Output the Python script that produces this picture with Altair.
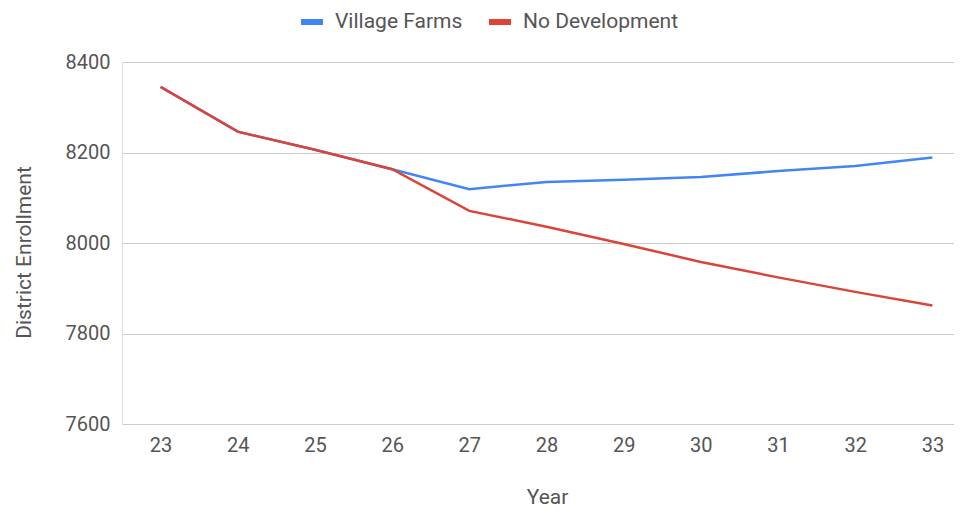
import altair as alt
import pandas as pd

years = [23, 24, 25, 26, 27, 28, 29, 30, 31, 32, 33]
village_farms = [8345, 8246, 8206, 8163, 8119, 8135, 8140, 8146, 8159, 8170, 8189]
no_development = [8345, 8246, 8206, 8163, 8071, 8036, 7998, 7958, 7924, 7892, 7862]
series_names = ["Village Farms", "No Development"]
series_colors = ["#4285F4", "#DB4437"]
y_ticks = [7600, 7800, 8000, 8200, 8400]

rows = []
for name, vals in zip(series_names, [village_farms, no_development]):
    for yr, v in zip(years, vals):
        rows.append({"Year": yr, "Enrollment": v, "Series": name})
df = pd.DataFrame(rows)

FONT = "Roboto"
TXT = "#555555"

x_enc = alt.X(
    "Year:Q",
    scale=alt.Scale(domain=[22.5, 33.28], nice=False, zero=False),
    axis=alt.Axis(
        values=years, format="d", grid=False, domain=False, ticks=False,
        labelPadding=11, labelFontSize=20, labelColor=TXT, labelFont=FONT,
        title="Year", titleFontSize=21, titleFontWeight="normal", titleColor=TXT,
        titleFont=FONT, titlePadding=31, titleX=425, titleAlign="center",
    ),
)
y_enc = alt.Y(
    "Enrollment:Q",
    scale=alt.Scale(domain=[7600, 8400], nice=False, zero=False),
    axis=alt.Axis(
        values=y_ticks, format="d", grid=True, gridColor="#cccccc", gridWidth=1,
        domain=False, ticks=False, labelPadding=12, labelFontSize=20,
        labelColor=TXT, labelFont=FONT,
        title="District Enrollment", titleFontSize=21, titleFontWeight="normal",
        titleColor=TXT, titleFont=FONT, titlePadding=31, titleY=190,
    ),
)
color_enc = alt.Color(
    "Series:N",
    scale=alt.Scale(domain=series_names, range=series_colors),
    legend=alt.Legend(
        orient="none", legendX=176, legendY=-54, direction="horizontal",
        title=None, symbolType="stroke", symbolSize=484, symbolStrokeWidth=6,
        labelFontSize=21, labelColor=TXT, labelFont=FONT, labelOffset=9,
        columnPadding=14, padding=0,
    ),
)

base = alt.Chart(df).mark_line(strokeWidth=2.5).encode(x=x_enc, y=y_enc, color=color_enc)
layer_vf = base.transform_filter(alt.datum.Series == "Village Farms")
layer_nd = base.transform_filter(alt.datum.Series == "No Development")

chart = (
    alt.layer(layer_vf, layer_nd)
    .properties(width=832, height=362, padding={"left": 5, "top": 0, "right": 0, "bottom": 0})
    .configure_view(stroke=None)
    .configure(background="white")
)

chart.save("out.html", embed_options={"renderer": "svg", "actions": False})
